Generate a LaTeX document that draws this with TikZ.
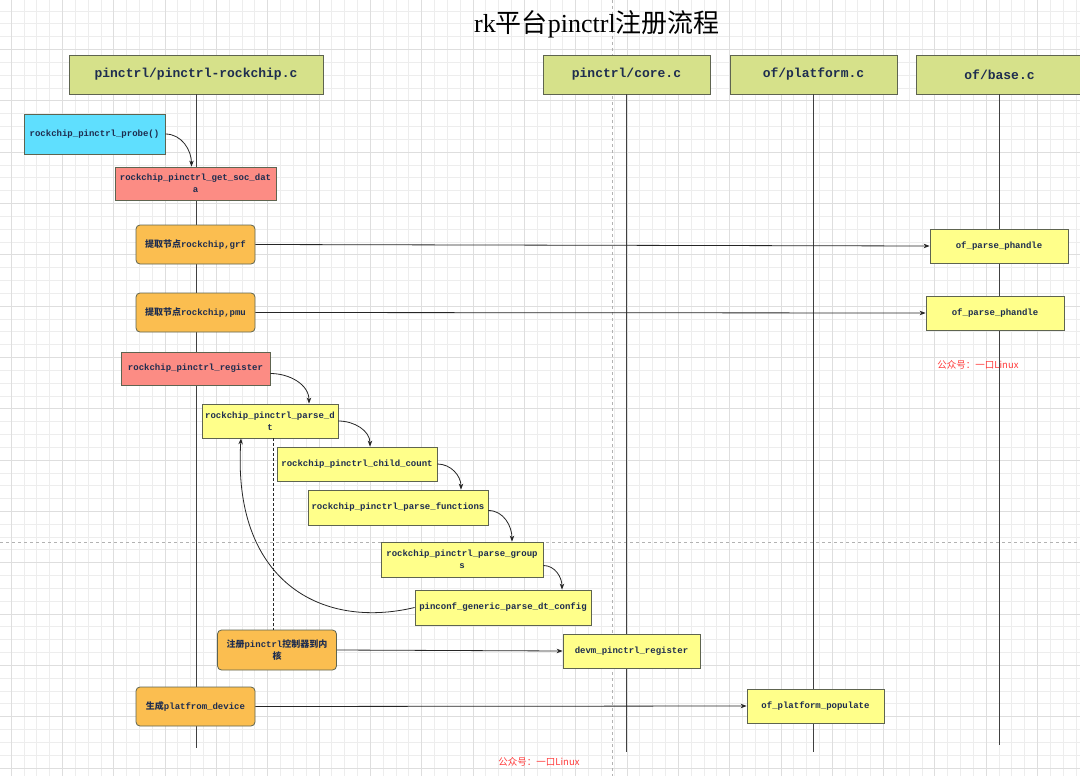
\documentclass[tikz,border=0pt]{standalone}
\usepackage{fontspec}
\setmainfont{Liberation Serif}
\setmonofont{Liberation Mono}
\newfontfamily\cjk{Noto Sans CJK SC}
\usetikzlibrary{arrows.meta}

\definecolor{hdrgreen}{HTML}{D6E18A}
\definecolor{cyanbox}{HTML}{5FDFFE}
\definecolor{redbox}{HTML}{FC8C84}
\definecolor{orangebox}{HTML}{FBBE50}
\definecolor{yellowbox}{HTML}{FFFF8A}
\definecolor{boxline}{HTML}{5E6450}
\definecolor{labeltext}{HTML}{1E2D4F}
\definecolor{markred}{HTML}{FF3B3B}

\begin{document}
\begin{tikzpicture}[
        x=1pt, y=1pt,
        minorgrid/.style={draw=black!7, line width=0.6pt},
        majorgrid/.style={draw=black!13, line width=0.6pt},
        pagebreak/.style={draw=black!30, dashed, line width=0.7pt},
        filebox/.style={rectangle, draw=boxline, fill=hdrgreen, line width=0.8pt, minimum width=167pt, minimum height=39pt, inner sep=0pt, font=\ttfamily\bfseries\fontsize{13}{15}\selectfont, text=labeltext},
        callbox/.style={rectangle, draw=boxline, line width=0.8pt, minimum height=34pt, inner sep=1pt, align=center, font=\ttfamily\bfseries\fontsize{9}{12}\selectfont, text=labeltext},
        stepbox/.style={callbox, rounded corners=4pt, fill=orangebox, minimum width=119pt, minimum height=39pt},
        lifeline/.style={draw=black!75, line width=0.9pt},
        connection/.style={draw=black!85, line width=0.8pt, -{Stealth[length=6pt,width=4.5pt]}},
        watermark/.style={font=\cjk\fontsize{9.5}{11}\selectfont, text=markred}
    ]
        % Background and grid
        \fill[white] (0,0) rectangle (1080,-776);
        \useasboundingbox (0,0) rectangle (1080,-776);
        \foreach \i in {-1,...,83} {
            \draw[minorgrid] ({11+12.83*\i},0) -- ++(0,-776);
        }
        \foreach \j in {0,...,61} {
            \draw[minorgrid] (0,{1.9-12.83*\j}) -- ++(1080,0);
        }
        \foreach \i in {0,...,20} {
            \draw[majorgrid] ({11+51.32*\i},0) -- ++(0,-776);
        }
        \foreach \j in {0,...,15} {
            \draw[majorgrid] (0,{1.9-51.32*\j}) -- ++(1080,0);
        }
        \draw[pagebreak] (612,0) -- (612,-776);
        \draw[pagebreak] (0,-542) -- (1080,-542);

        % Title
        \node (title) at (597,-24) {\fontsize{26}{30}\selectfont rk{\cjk 平台}pinctrl{\cjk 注册流程}};

        % Source files
        \node[filebox, minimum width=254pt] (rockchip) at (196,-74.5) {pinctrl/pinctrl-rockchip.c};
        \node[filebox] (core) at (626.5,-74.5) {pinctrl/core.c};
        \node[filebox] (platform) at (813.5,-74.5) {of/platform.c};
        \node[filebox] (base) at (999.5,-74.5) {of/base.c};

        % Lifelines (drawn before the calls)
        \coordinate (rockchip-end) at (196,-748);
        \coordinate (core-end) at (626.5,-752);
        \coordinate (platform-end) at (813.5,-752);
        \coordinate (base-end) at (999.5,-745);
        \foreach \f in {rockchip,core,platform,base} {
            \draw[lifeline] (\f.south) -- (\f-end);
        }

        % Calls
        \node[callbox, fill=cyanbox, minimum width=141pt, minimum height=40pt] (probe) at (94.5,-134) {rockchip\_pinctrl\_probe()};
        \node[callbox, fill=redbox, minimum width=161pt, minimum height=33pt] (socdata) at (195.5,-183.5) {rockchip\_pinctrl\_get\_soc\_dat\\a};
        \node[stepbox] (grf) at (195.5,-244.5) {{\cjk 提取节点}rockchip,grf};
        \node[callbox, fill=yellowbox, minimum width=138pt] (phandlegrf) at (999,-246) {of\_parse\_phandle};
        \node[stepbox] (pmu) at (195.5,-312.5) {{\cjk 提取节点}rockchip,pmu};
        \node[callbox, fill=yellowbox, minimum width=138pt] (phandlepmu) at (995,-313) {of\_parse\_phandle};
        \node[watermark] (mark1) at (978,-365) {公众号：一口Linux};
        \node[callbox, fill=redbox, minimum width=149pt, minimum height=33pt] (register) at (195.5,-368.5) {rockchip\_pinctrl\_register};
        \node[callbox, fill=yellowbox, minimum width=136pt] (parsedt) at (270,-421) {rockchip\_pinctrl\_parse\_d\\t};
        \node[callbox, fill=yellowbox, minimum width=160pt] (childcount) at (357,-464) {rockchip\_pinctrl\_child\_count};
        \node[callbox, fill=yellowbox, minimum width=180pt, minimum height=35pt] (functions) at (398,-507.5) {rockchip\_pinctrl\_parse\_functions};
        \node[callbox, fill=yellowbox, minimum width=162pt, minimum height=35pt] (groups) at (462,-559.5) {rockchip\_pinctrl\_parse\_group\\s};
        \node[callbox, fill=yellowbox, minimum width=176pt, minimum height=35pt] (dtconfig) at (503,-607.5) {pinconf\_generic\_parse\_dt\_config};
        \node[stepbox, minimum height=40pt] (kernel) at (277,-650) {{\cjk 注册}pinctrl{\cjk 控制器到内}\\{\cjk 核}};
        \node[callbox, fill=yellowbox, minimum width=137pt] (devm) at (631.5,-651) {devm\_pinctrl\_register};
        \node[stepbox] (platdev) at (195.5,-706.5) {{\cjk 生成}platfrom\_device};
        \node[callbox, fill=yellowbox, minimum width=137pt] (populate) at (815.5,-706) {of\_platform\_populate};
        \node[watermark] (mark2) at (539,-762) {公众号：一口Linux};

        % Connections
        \draw[connection] (probe.east) to[out=0, in=90] ([xshift=-4pt]socdata.north);
        \draw[connection] (grf.east) -- (phandlegrf.west);
        \draw[connection] (pmu.east) -- (phandlepmu.west);
        \draw[connection] ([yshift=-5pt]register.east) to[out=0, in=90] ([xshift=39pt]parsedt.north);
        \draw[connection] (parsedt.east) to[out=0, in=90] ([xshift=13pt]childcount.north);
        \draw[connection] (childcount.east) to[out=0, in=90] ([xshift=63pt]functions.north);
        \draw[connection] ([yshift=-3pt]functions.east) to[out=0, in=90] ([xshift=50pt]groups.north);
        \draw[connection] ([yshift=-6pt]groups.east) to[out=0, in=90] ([xshift=59pt]dtconfig.north);
        \draw[connection] (dtconfig.west) .. controls (320,-630) and (232,-580) .. ([xshift=-29pt]parsedt.south);
        \draw[black!85, line width=0.7pt, dash pattern=on 3pt off 2pt] ([xshift=3pt]parsedt.south) -- ([xshift=-4pt]kernel.north);
        \draw[connection] (kernel.east) -- (devm.west);
        \draw[connection] (platdev.east) -- (populate.west);
    \end{tikzpicture}
\end{document}
